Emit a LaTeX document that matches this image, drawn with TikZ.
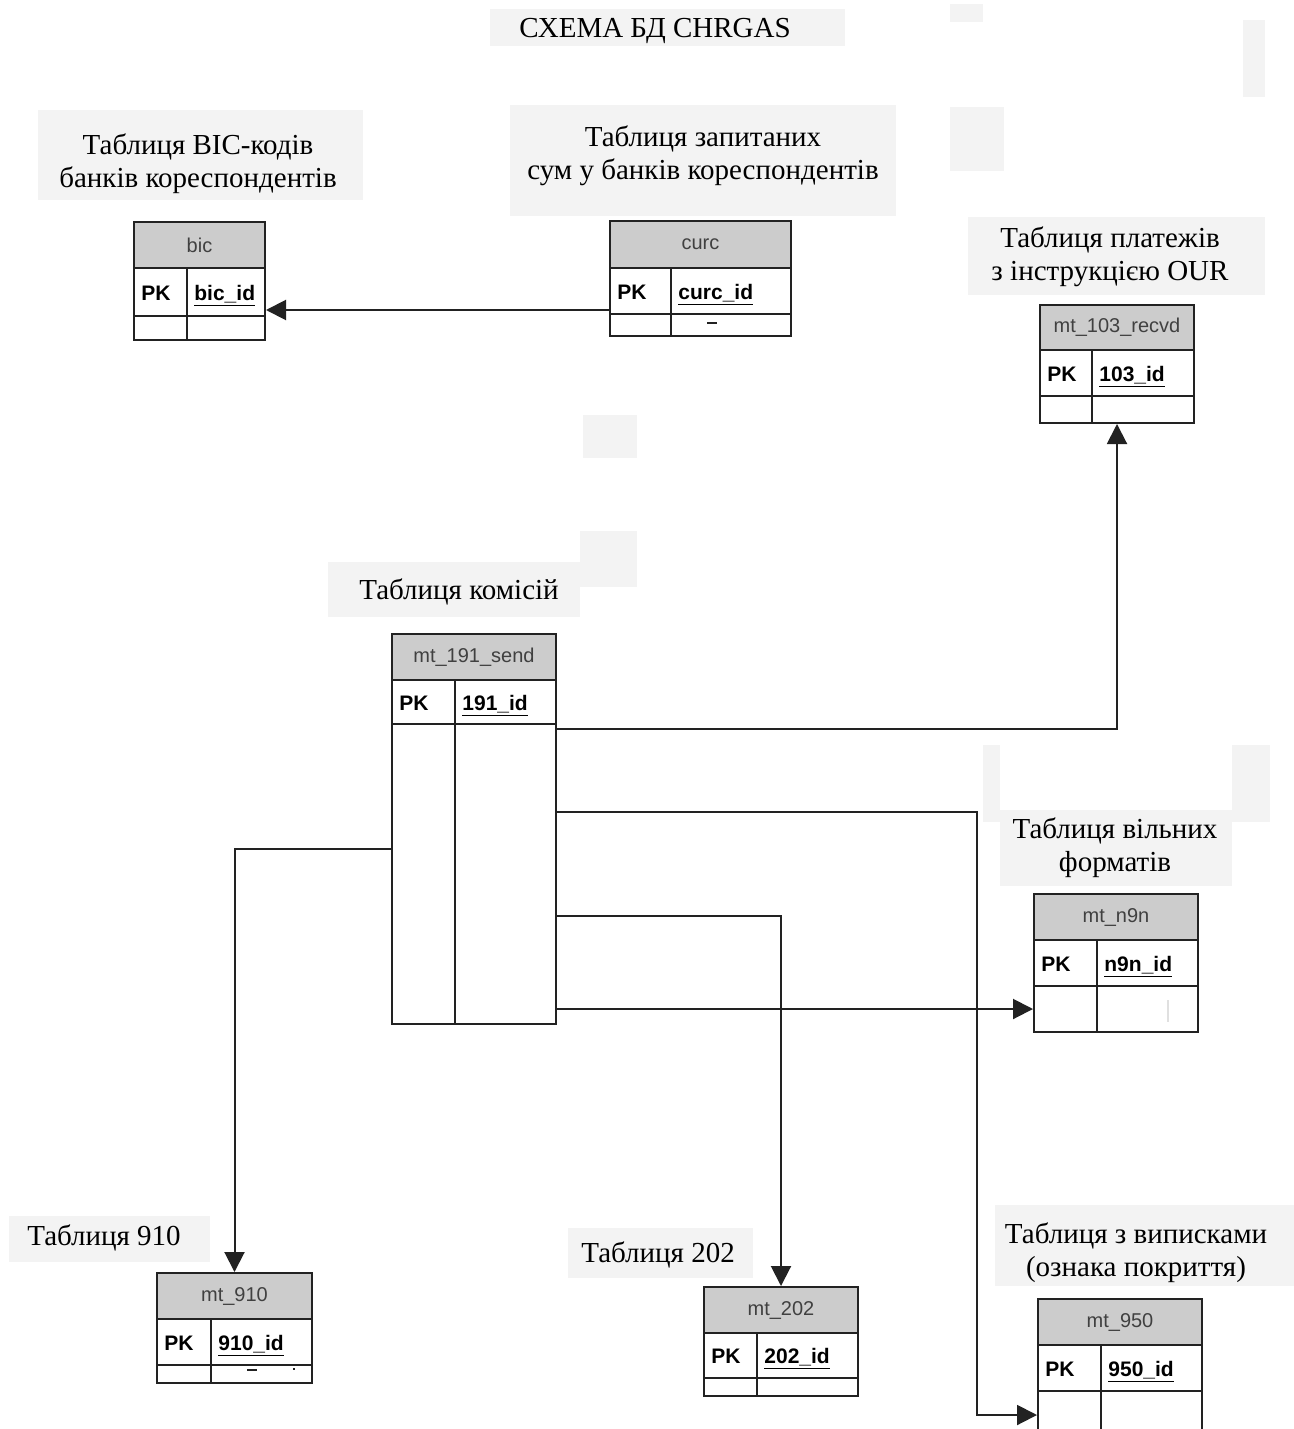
\documentclass[tikz,border=0pt]{standalone}
\usepackage{fontspec}
\setmainfont{Liberation Serif}
\newfontfamily\arialf{Liberation Sans}
\usetikzlibrary{arrows.meta,fit}
\definecolor{lblgray}{HTML}{F3F3F3}
\definecolor{hdrgray}{HTML}{CCCCCC}
\definecolor{hdrtext}{HTML}{404040}
\definecolor{linec}{HTML}{222222}
\tikzset{
 lbl/.style={fill=lblgray, draw=none},
 lbltext/.style={font=\fontsize{14.5}{16.5}\selectfont, align=center, inner sep=0},
 tblframe/.style={draw=linec, line width=1pt, inner sep=0},
 tblline/.style={draw=linec, line width=1pt},
 hdrtxt/.style={font=\arialf\fontsize{10}{12}\selectfont, text=hdrtext, inner sep=0},
 pktxt/.style={font=\arialf\bfseries\fontsize{10.5}{12}\selectfont, anchor=base west, inner sep=0},
 conn/.style={draw=linec, line width=1pt, -{Triangle[length=10pt,width=10pt]}},
}
% #1 id, #2 x1, #3 y1, #4 x2, #5 yh, #6 yp, #7 y2, #8 xd, #9 title
\newcommand\erdtbl[9]{%
 \fill[hdrgray] (#2,#3) rectangle (#4,#5);
 \draw[tblline] (#2,#5) -- (#4,#5) (#2,#6) -- (#4,#6) (#8,#5) -- (#8,#7);
 \node[tblframe, fit={(#2,#3)(#4,#7)}] (t#1) {};
 \node[hdrtxt] (h#1) at ({(#2+#4)/2},{(#3+#5)/2}) {#9};
 \node[pktxt] (p#1) at ({#2+7},{(#5+#6)/2+8}) {PK};
 \node[pktxt] (f#1) at ({#8+7},{(#5+#6)/2+8}) {\underline{#1\_id}};
}
\begin{document}
\begin{tikzpicture}[x=0.5pt,y=-0.5pt]
\useasboundingbox (0,0) rectangle (1294,1429);
\clip (0,0) rectangle (1294,1429);
\fill[white] (0,0) rectangle (1294,1429);
% grey label backgrounds
\fill[lbl] (490,9) rectangle (845,46);
\fill[lbl] (950,4) rectangle (983,22);
\fill[lbl] (1243,20) rectangle (1265,97);
\fill[lbl] (950,107) rectangle (1004,171);
\fill[lbl] (38,110) rectangle (363,200);
\fill[lbl] (510,105) rectangle (896,216);
\fill[lbl] (968,217) rectangle (1265,295);
\fill[lbl] (583,415) rectangle (637,458);
\fill[lbl] (580,531) rectangle (637,587);
\fill[lbl] (328,562) rectangle (580,617);
\fill[lbl] (983,745) rectangle (1000,822);
\fill[lbl] (1232,745) rectangle (1270,822);
\fill[lbl] (1000,810) rectangle (1232,886);
\fill[lbl] (9,1216) rectangle (210,1262);
\fill[lbl] (568,1228) rectangle (753,1278);
\fill[lbl] (995,1205) rectangle (1294,1286);
% label texts
\node[lbltext] (title) at (655,31) {СХЕМА БД CHRGAS};
\node[lbltext] (lbic) at (198,164) {Таблиця BIC-кодів\\банків кореспондентів};
\node[lbltext] (lcurc) at (703,156) {Таблиця запитаних\\сум у банків кореспондентів};
\node[lbltext] (l103) at (1110,257) {Таблиця платежів\\з інструкцією OUR};
\node[lbltext] (l191) at (459,592) {Таблиця комісій};
\node[lbltext] (ln9n) at (1115,848) {Таблиця вільних\\форматів};
\node[lbltext] (l910) at (104,1238) {Таблиця 910};
\node[lbltext] (l202) at (658,1255) {Таблиця 202};
\node[lbltext] (l950) at (1136,1253) {Таблиця з виписками\\(ознака покриття)};
% tables
\erdtbl{bic}{134}{222}{265}{268}{316}{340}{187}{bic}
\erdtbl{curc}{610}{221}{791}{268}{314}{336}{671}{curc}
\erdtbl{103}{1040}{305}{1194}{350}{396}{423}{1092}{mt\_103\_recvd}
\erdtbl{191}{392}{634}{556}{680}{724}{1024}{455}{mt\_191\_send}
\erdtbl{n9n}{1034}{894}{1198}{940}{986}{1032}{1097}{mt\_n9n}
\erdtbl{910}{157}{1273}{312}{1319}{1365}{1383}{211}{mt\_910}
\erdtbl{202}{704}{1287}{858}{1333}{1378}{1396}{757}{mt\_202}
\erdtbl{950}{1038}{1299}{1202}{1345}{1391}{1460}{1101}{mt\_950}
% small marks
\draw[linec, line width=0.6pt] (707,323) -- (717,323);
\draw[linec, line width=0.6pt] (247,1370) -- (257,1370);
\draw[linec, line width=0.6pt] (293,1369) -- (295,1369);
\draw[black!12, line width=1pt] (1168,1000) -- (1168,1022);
% connectors
\coordinate (b950) at (977,1415);
\draw[conn] (tcurc.west |- 0,310) -- (tbic.east |- 0,310);
\draw[conn] (t191.east |- 0,729) -| (t103.south);
\draw[conn] (t191.east |- 0,812) -| (b950) -- (t950.west |- b950);
\draw[conn] (t191.east |- 0,916) -| (t202.north);
\draw[conn] (t191.east |- 0,1009) -- (tn9n.west |- 0,1009);
\draw[conn] (t191.west |- 0,849) -| (t910.north);
\end{tikzpicture}
\end{document}
